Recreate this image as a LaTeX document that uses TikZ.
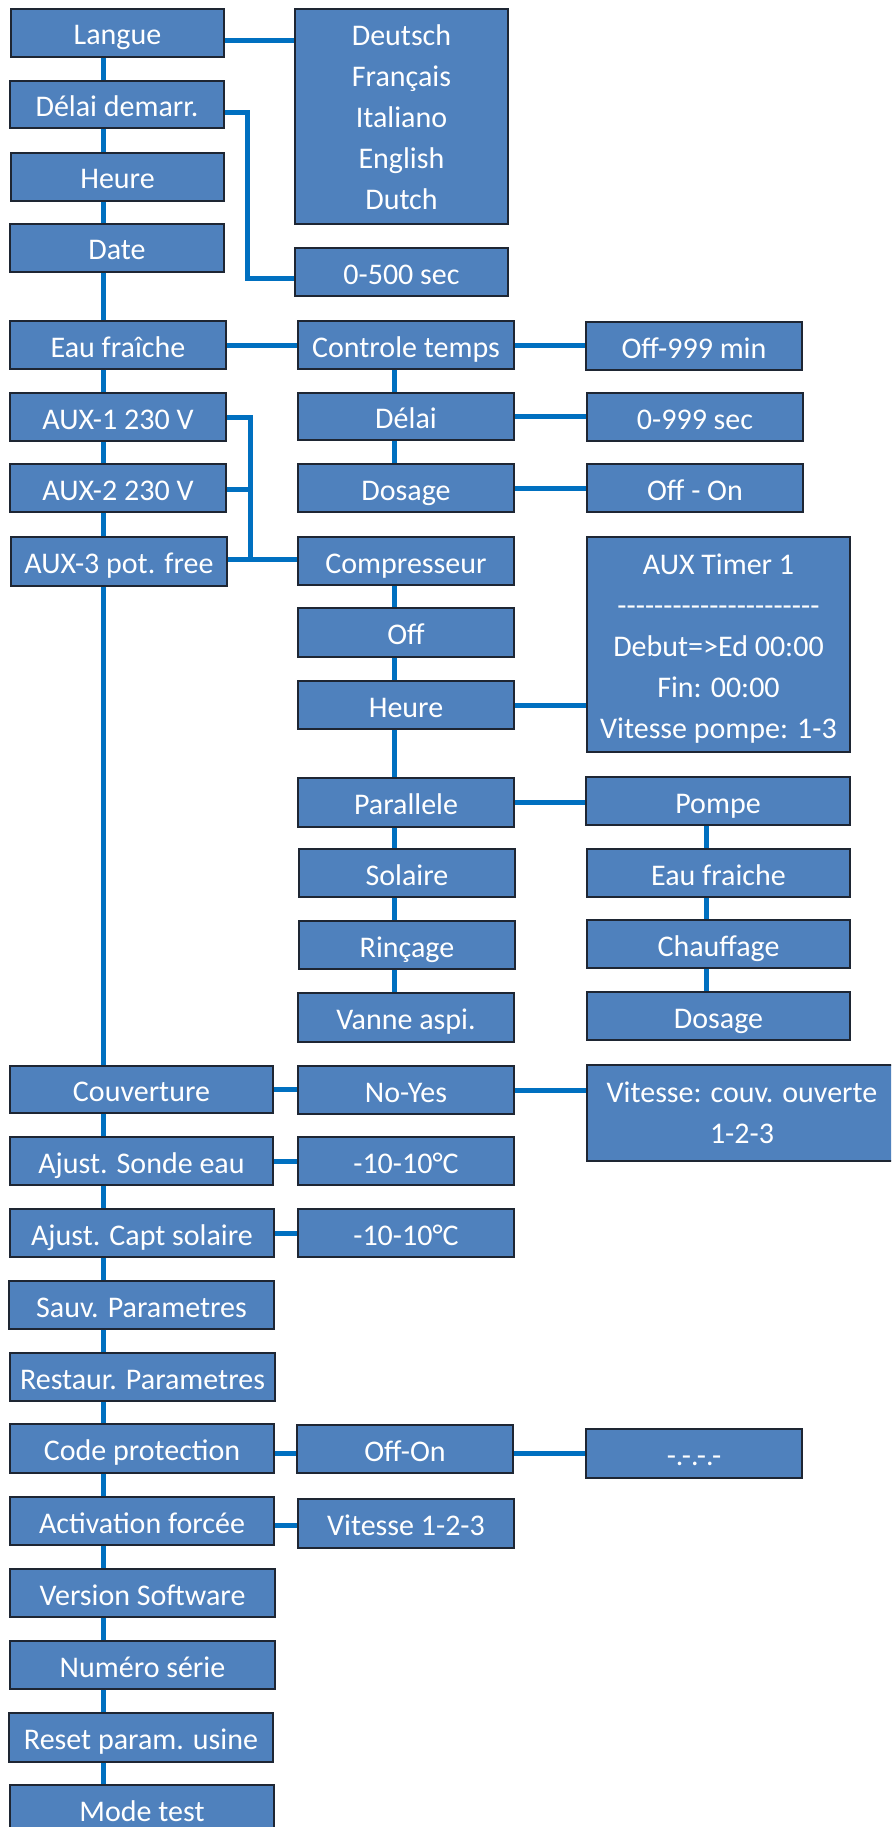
\documentclass[tikz,border=0pt]{standalone}
\usepackage{fontspec}
\newfontfamily\carl{Carlito}
\definecolor{boxfill}{HTML}{4F81BD}
\definecolor{boxline}{HTML}{1E2633}
\definecolor{connblue}{HTML}{0070C0}
\newcommand\bx[6]{\node[box,minimum width={#4-#2},minimum height={#5-#3}] (#1) at ({(#2+#4)/2},{-(#3+#5)/2}) {#6};}
\newcommand\mbx[6]{\node[mbox,minimum width={#4-#2},minimum height={#5-#3}] (#1) at ({(#2+#4)/2},{-(#3+#5)/2}) {#6};}
\newcommand\topstrut[1]{\rule{0pt}{#1pt}}
\newcommand\botstrut[1]{\rule[-#1pt]{0pt}{0pt}}
\tikzset{
  box/.style={draw=boxline,fill=boxfill,line width=1.3pt,inner sep=0pt,text=white,
    font=\carl\fontsize{30}{41}\selectfont,text height=31pt,text depth=7pt},
  mbox/.style={draw=boxline,fill=boxfill,line width=1.3pt,inner sep=0pt,text=white,
    font=\carl\fontsize{30}{41}\selectfont,align=center},
  conn/.style={draw=connblue,line width=5pt}
}
\begin{document}
\begin{tikzpicture}[x=1pt,y=1pt]
\useasboundingbox (0,0) rectangle (891,-1827);
\clip (0,0) rectangle (891,-1827);
\fill[white] (0,0) rectangle (891,-1827);
% column 1
\bx{langue}{11}{9}{224}{57}{Langue}
\bx{delaid}{10}{81}{224}{128}{Délai demarr.}
\bx{heure}{11}{153}{224}{201}{Heure}
\bx{date}{10}{224}{224}{272}{Date}
\bx{eau}{10}{321}{226}{369}{Eau fraîche}
\bx{aux1}{10}{393}{226}{441}{AUX-1 230 V}
\bx{aux2}{10}{464}{226}{512}{AUX-2 230 V}
\bx{aux3}{11}{537}{227}{586}{AUX-3 pot. free}
\bx{couv}{10}{1066}{273}{1113}{Couverture}
\bx{sonde}{10}{1137}{273}{1185}{Ajust. Sonde eau}
\bx{capt}{10}{1209}{274}{1257}{Ajust. Capt solaire}
\bx{sauv}{9}{1281}{274}{1329}{Sauv. Parametres}
\bx{rest}{10}{1353}{275}{1401}{Restaur. Parametres}
\bx{code}{10}{1424}{274}{1473}{Code protection}
\bx{activ}{10}{1497}{274}{1545}{Activation forcée}
\bx{vers}{10}{1569}{275}{1617}{Version Software}
\bx{num}{10}{1641}{275}{1689}{Numéro série}
\bx{reset}{9}{1713}{273}{1762}{Reset param. usine}
\bx{mode}{10}{1785}{274}{1833}{Mode test}
% column 2
\mbx{langs}{295}{9}{508}{224}{\topstrut{23}Deutsch\\Français\\Italiano\\English\\Dutch}
\bx{sec500}{295}{248}{508}{296}{0-500 sec}
\bx{ctrl}{298}{321}{514}{369}{Controle temps}
\bx{delai}{298}{393}{514}{440}{Délai}
\bx{dos}{298}{464}{514}{512}{Dosage}
\bx{comp}{298}{537}{514}{585}{Compresseur}
\bx{off}{298}{608}{514}{657}{Off}
\bx{heureb}{298}{681}{514}{729}{Heure}
\bx{para}{298}{778}{514}{827}{Parallele}
\bx{sol}{299}{849}{515}{897}{Solaire}
\bx{rinc}{299}{921}{515}{969}{Rinçage}
\bx{vanne}{298}{993}{514}{1042}{Vanne aspi.}
\bx{noyes}{298}{1066}{514}{1114}{No-Yes}
\bx{tsonde}{298}{1137}{514}{1185}{-10-10°C}
\bx{tcapt}{298}{1209}{514}{1257}{-10-10°C}
\bx{offon}{297}{1425}{513}{1473}{Off-On}
\bx{vit}{298}{1499}{514}{1548}{Vitesse 1-2-3}
% column 3
\bx{min999}{586}{322}{802}{370}{Off-999 min}
\bx{sec999}{587}{393}{803}{441}{0-999 sec}
\bx{offonb}{587}{464}{803}{512}{Off - On}
\mbx{timer}{587}{537}{850}{752}{\topstrut{32}AUX Timer 1\\----------------------\\Debut=>Ed 00:00\\Fin: 00:00\\Vitesse pompe: 1-3\botstrut{7.5}}
\bx{pompe}{586}{777}{850}{825}{Pompe}
\bx{eauf}{587}{849}{850}{897}{Eau fraiche}
\bx{chauf}{587}{920}{850}{968}{Chauffage}
\bx{dosb}{587}{992}{850}{1040}{Dosage}
\mbx{vitc}{587}{1065}{897}{1161}{\topstrut{21}Vitesse: couv. ouverte\\1-2-3}
\bx{code4}{586}{1429}{802}{1478}{-.-.-.-}
% spines
\coordinate (sp1) at (103,0);
\coordinate (sp2) at (394,0);
\coordinate (sp3) at (706,0);
\foreach \a/\b in {langue/delaid,delaid/heure,heure/date,date/eau,eau/aux1,aux1/aux2,aux2/aux3,aux3/couv,couv/sonde,sonde/capt,capt/sauv,sauv/rest,rest/code,code/activ,activ/vers,vers/num,num/reset,reset/mode}
  \draw[conn] (\a.south -| sp1) -- (\b.north -| sp1);
\foreach \a/\b in {ctrl/delai,delai/dos,comp/off,off/heureb,heureb/para,para/sol,sol/rinc,rinc/vanne}
  \draw[conn] (\a.south -| sp2) -- (\b.north -| sp2);
\foreach \a/\b in {pompe/eauf,eauf/chauf,chauf/dosb}
  \draw[conn] (\a.south -| sp3) -- (\b.north -| sp3);
% horizontal links
\coordinate (ly) at (0,-41);
\draw[conn] (langue.east |- ly) -- (langs.west |- ly);
\coordinate (d1) at (247,-113);
\coordinate (d2) at (247,-278);
\draw[conn,line join=miter] (delaid.east |- d1) -- (d1) -- (d2) -- (sec500.west |- d2);
\foreach \a/\b in {eau/ctrl,ctrl/min999,delai/sec999,dos/offonb,heureb/timer,para/pompe,couv/noyes,noyes/vitc,sonde/tsonde,capt/tcapt}
  \draw[conn] (\a.east) -- (\a.east -| \b.west);
\coordinate (b1) at (250,-417);
\coordinate (b2) at (250,-489);
\coordinate (b3) at (250,-559);
\draw[conn,line join=miter] (aux1.east |- b1) -- (b1) -- (b3);
\draw[conn] (aux2.east |- b2) -- (b2);
\draw[conn] (aux3.east |- b3) -- (comp.west |- b3);
\coordinate (cy) at (0,-1453);
\draw[conn] (code.east |- cy) -- (offon.west |- cy);
\draw[conn] (offon.east |- cy) -- (code4.west |- cy);
\coordinate (ay) at (0,-1525);
\draw[conn] (activ.east |- ay) -- (vit.west |- ay);
\end{tikzpicture}
\end{document}
